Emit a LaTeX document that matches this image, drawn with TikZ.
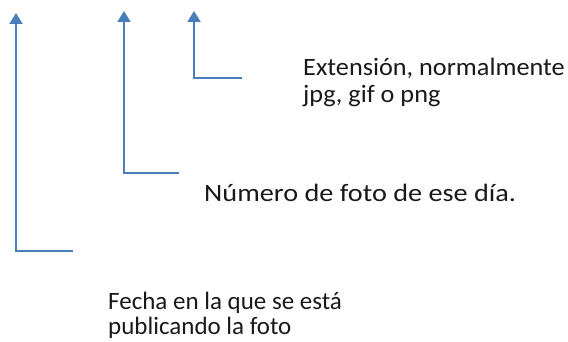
\documentclass[tikz,border=0pt]{standalone}
\usepackage{fontspec}
\setmainfont{Carlito}
\usetikzlibrary{arrows.meta}
\definecolor{lineblue}{HTML}{4A7EBB}
\tikzset{
  pointer/.style={draw=lineblue, line width=2pt, -{Triangle[length=11pt,width=13pt]}},
  label/.style={anchor=base west, inner sep=0pt, align=left, text=black!90}
}
\begin{document}
\begin{tikzpicture}[x=1pt,y=-1pt]
\useasboundingbox (0,0) rectangle (568,342);
\coordinate (e1) at (73,251);
\coordinate (c1) at (16,251);
\coordinate (t1) at (16,13);
\coordinate (e2) at (179,173);
\coordinate (c2) at (124,173);
\coordinate (t2) at (124,11);
\coordinate (e3) at (242,78);
\coordinate (c3) at (194,78);
\coordinate (t3) at (194,11);
\draw[pointer] (e1) -- (c1) -- (t1);
\draw[pointer] (e2) -- (c2) -- (t2);
\draw[pointer] (e3) -- (c3) -- (t3);
\node[label, font={\fontsize{25}{27}\selectfont\addfontfeatures{FakeStretch=1.05}}] (l3) at (303,103) {Extensión, normalmente\\jpg, gif o png};
\node[label, font={\fontsize{25}{27}\selectfont\addfontfeatures{FakeStretch=1.13}}] (l2) at (204,201) {Número de foto de ese día.};
\node[label, font={\fontsize{25}{25}\selectfont}] (l1) at (108,334) {Fecha en la que se está\\publicando la foto};
\end{tikzpicture}
\end{document}
